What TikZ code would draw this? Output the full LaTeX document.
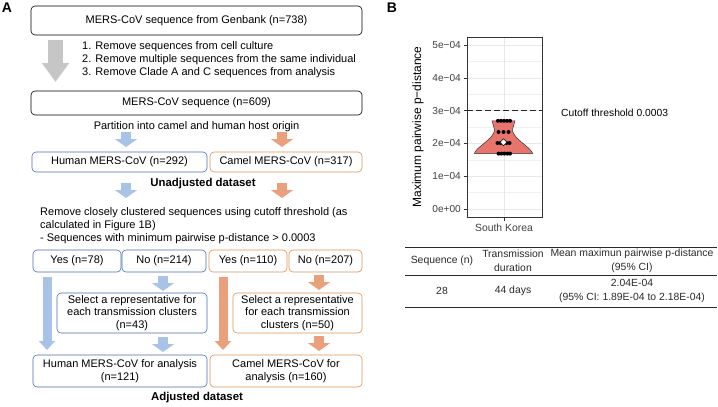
\documentclass[tikz,border=0pt]{standalone}
\usepackage{fontspec}
\setmainfont{Liberation Sans}
\usetikzlibrary{arrows.meta}
\definecolor{bbord}{HTML}{4A6DB5}
\definecolor{obord}{HTML}{E0904F}
\definecolor{barr}{HTML}{A8C2E8}
\definecolor{oarr}{HTML}{EBA07C}
\definecolor{garr}{HTML}{C6C6C6}
\definecolor{violinfill}{HTML}{E8756C}
\definecolor{txtgray}{HTML}{2A2A2A}
\begin{document}
\begin{tikzpicture}[x=1pt,y=-1pt,
  fnt/.style={font=\fontsize{11}{12.6}\selectfont},
  txt/.style={fnt, inner sep=0pt},
  box/.style={fnt, draw=black, rounded corners=4pt, line width=0.6pt, align=center, inner sep=1pt},
  bbox/.style={box, draw=bbord},
  obox/.style={box, draw=obord},
  grayarrow/.style={garr, line width=15pt, -{Triangle[width=26pt,length=19pt]}},
  sarrow/.style={line width=10pt, -{Triangle[width=22pt,length=8pt]}},
  larrow/.style={line width=9pt, -{Triangle[width=16pt,length=9pt]}},
  panellabel/.style={font=\fontsize{14}{14}\selectfont\bfseries, inner sep=0pt},
  tick/.style={font=\fontsize{10.1}{11}\selectfont, text=black!75, inner sep=0pt},
  tabtxt/.style={font=\fontsize{10.4}{14}\selectfont, text=txtgray, inner sep=0pt, align=center},
  major/.style={draw=black!9, line width=0.6pt},
  minor/.style={draw=black!6, line width=0.35pt},
  dot/.style={fill=black, draw=none},
  boldtxt/.style={inner sep=0pt, font=\fontsize{11.4}{12}\selectfont\bfseries}
]
\useasboundingbox (0,0) rectangle (718,407);
% ---------- Panel A ----------
\node[panellabel] (labA) at (7,8) {A};
\node[box, minimum width=331pt, minimum height=29pt] (gen) at (196.5,20.5) {MERS-CoV sequence from Genbank (n=738)};
\coordinate (g1) at (55.5,40); \coordinate (g2) at (55.5,82);
\draw[grayarrow] (g1) -- (g2);
\node[txt, anchor=west] (r1) at (82,47) {1. Remove sequences from cell culture};
\node[txt, anchor=west] (r2) at (82,60) {2. Remove multiple sequences from the same individual};
\node[txt, anchor=west] (r3) at (82,73) {3. Remove Clade A and C sequences from analysis};
\node[box, minimum width=331pt, minimum height=24pt] (s609) at (196.5,103) {MERS-CoV sequence (n=609)};
\node[txt] (part) at (196.5,127) {Partition into camel and human host origin};
\coordinate (b1a) at (126,132); \coordinate (b1b) at (126,147);
\draw[sarrow, barr] (b1a) -- (b1b);
\coordinate (o1a) at (282,132); \coordinate (o1b) at (282,147);
\draw[sarrow, oarr] (o1a) -- (o1b);
\node[bbox, minimum width=175pt, minimum height=20pt] (hum) at (119.5,162) {Human MERS-CoV (n=292)};
\node[obox, minimum width=152pt, minimum height=20pt] (cam) at (286,162) {Camel MERS-CoV (n=317)};
\node[boldtxt] (unadj) at (203,184) {Unadjusted dataset};
\coordinate (b2a) at (126,183); \coordinate (b2b) at (126,198);
\draw[sarrow, barr] (b2a) -- (b2b);
\coordinate (o2a) at (282,183); \coordinate (o2b) at (282,198);
\draw[sarrow, oarr] (o2a) -- (o2b);
\node[txt, anchor=west] (c1) at (40,213) {Remove closely clustered sequences using cutoff threshold (as};
\node[txt, anchor=west] (c2) at (40,226) {calculated in Figure 1B)};
\node[txt, anchor=west] (c3) at (40,239) {- Sequences with minimum pairwise p-distance > 0.0003};
\node[bbox, minimum width=88pt, minimum height=22pt] (yh) at (77,261) {Yes (n=78)};
\node[bbox, minimum width=84pt, minimum height=22pt] (nh) at (164,261) {No (n=214)};
\node[obox, minimum width=78pt, minimum height=22pt] (yc) at (248,261) {Yes (n=110)};
\node[obox, minimum width=73pt, minimum height=22pt] (nc) at (325.5,261) {No (n=207)};
\node[bbox, minimum width=150pt, minimum height=40pt] (selh) at (132,313) {Select a representative for\\each transmission clusters\\(n=43)};
\node[obox, minimum width=129pt, minimum height=40pt] (selc) at (297.5,313) {Select a representative\\for each transmission\\clusters (n=50)};
\node[bbox, minimum width=174pt, minimum height=32pt] (anh) at (120,371) {Human MERS-CoV for analysis\\(n=121)};
\node[obox, minimum width=152pt, minimum height=32pt] (anc) at (286,371) {Camel MERS-CoV for\\analysis (n=160)};
\node[boldtxt] (adj) at (197,398) {Adjusted dataset};
% long arrows
\coordinate (lb1) at (47,277); \coordinate (lb2) at (47,350);
\draw[larrow, barr] (lb1) -- (lb2);
\coordinate (lo1) at (223,277); \coordinate (lo2) at (223,350);
\draw[larrow, oarr] (lo1) -- (lo2);
% short arrows
\coordinate (b3a) at (163,276); \coordinate (b3b) at (163,291);
\draw[sarrow, barr] (b3a) -- (b3b);
\coordinate (b4a) at (163,337); \coordinate (b4b) at (163,352);
\draw[sarrow, barr] (b4a) -- (b4b);
\coordinate (o3a) at (319,275); \coordinate (o3b) at (319,290);
\draw[sarrow, oarr] (o3a) -- (o3b);
\coordinate (o4a) at (319,336); \coordinate (o4b) at (319,351);
\draw[sarrow, oarr] (o4a) -- (o4b);
% ---------- Panel B ----------
\node[panellabel] (labB) at (392,8) {B};
% grid
\foreach \v in {0.5,1.5,2.5,3.5,4.5}
  \draw[minor] (467,{209-32.8*\v}) -- (542,{209-32.8*\v});
\foreach \v in {0,1,2,3,4,5}
  \draw[major] (467,{209-32.8*\v}) -- (542,{209-32.8*\v});
\draw[major] (504,37) -- (504,217);
% dashed cutoff
\draw[line width=0.7pt, dash pattern=on 5.5pt off 3.5pt, black!85] (467,110.6) -- (542,110.6);
% violin
\filldraw[fill=violinfill, draw=black!80, line width=0.5pt]
  plot[smooth] coordinates {(515,120.8) (513.5,126) (512.5,131) (516,137) (522.5,143) (528.5,148) (532,152) (532.5,153.6)}
  -- plot[smooth] coordinates {(474.5,153.6) (475,152) (478.5,148) (484.5,143) (491,137) (494.5,131) (493.5,126) (492,120.8)}
  -- cycle;
% dots
\foreach \x in {498,501,504,507,510} \fill[dot] (\x,120.8) circle (2pt);
\foreach \x in {498.5,503.5,508.5} \fill[dot] (\x,132) circle (2pt);
\foreach \x in {497.5,500.5,506.5,509.5} \fill[dot] (\x,143) circle (2pt);
\foreach \x in {498.5,501.5,504.5,507.5,510} \fill[dot] (\x,153.6) circle (2pt);
\draw[fill=white, draw=black, line width=0.6pt] (503.5,138.8) -- (507,142.3) -- (503.5,145.8) -- (500,142.3) -- cycle;
% panel border
\draw[black!80, line width=0.6pt] (467,37) rectangle (542,217);
% ticks and labels
\foreach \v/\l in {0/0e+00,1/1e{\char"2212}04,2/2e{\char"2212}04,3/3e{\char"2212}04,4/4e{\char"2212}04,5/5e{\char"2212}04}{
  \draw[black!80, line width=0.5pt] (463.5,{209-32.8*\v}) -- (467,{209-32.8*\v});
  \node[tick, anchor=east] at (461,{209-32.8*\v}) {\l};
}
\draw[black!80, line width=0.5pt] (504,217) -- (504,220.5);
\node[tick, font=\fontsize{10.4}{11}\selectfont] (sk) at (504,228) {South Korea};
\node[inner sep=0pt, rotate=90, font=\fontsize{12}{13}\selectfont] (ytitle) at (418,127) {Maximum pairwise p{\char"2212}distance};
\node[txt, anchor=west, font=\fontsize{10.3}{11}\selectfont] (cut) at (561,113) {Cutoff threshold 0.0003};
% table
\coordinate (t1l) at (405,247); \coordinate (t1r) at (717,247);
\coordinate (t2l) at (405,275); \coordinate (t2r) at (717,275);
\coordinate (t3l) at (405,307); \coordinate (t3r) at (717,307);
\draw[txtgray, line width=0.9pt] (t1l) -- (t1r);
\draw[txtgray, line width=0.7pt] (t2l) -- (t2r);
\draw[txtgray, line width=0.9pt] (t3l) -- (t3r);
\node[tabtxt] (h1) at (442,261) {Sequence (n)};
\node[tabtxt] (h2) at (513,261) {Transmission\\duration};
\node[tabtxt] (h3) at (632,261) {Mean maximun pairwise p-distance\\(95\% CI)};
\node[tabtxt] (d1) at (442,291) {28};
\node[tabtxt] (d2) at (513,291) {44 days};
\node[tabtxt] (d3) at (632,291) {2.04E-04\\(95\% CI: 1.89E-04 to 2.18E-04)};
\end{tikzpicture}
\end{document}
